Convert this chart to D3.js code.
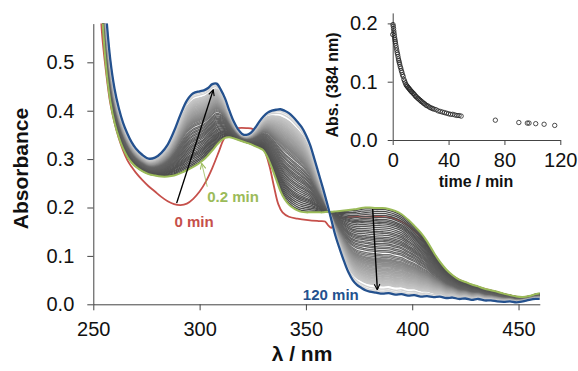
<!DOCTYPE html>
<html>
<head>
<meta charset="utf-8">
<script src="https://cdn.jsdelivr.net/npm/d3@7"></script>
<style>
  body { margin: 0; background: #fff; }
  svg { font-family: "Liberation Sans", Arial, sans-serif; }
</style>
</head>
<body>
<div id="chart"></div>
<script>
// wavelength grid (nm) shared by the 0.2 min and 120 min spectra
const wl = [250, 252, 254, 256, 258, 260, 262, 264, 266, 268, 270, 273, 276, 279, 282, 285, 288, 291, 294, 297,
  300, 302, 304, 306, 308, 310, 312, 314, 316, 318, 320, 322, 324, 326, 328, 330, 332, 334, 336, 338,
  340, 342, 344, 346, 348, 350, 352, 354, 356, 358, 360, 362, 364, 366, 368, 370, 372, 374, 376, 378,
  380, 383, 386, 389, 392, 395, 398, 401, 404, 407, 410, 413, 416, 419, 422, 425, 428, 431, 434, 437,
  440, 443, 446, 449, 452, 455, 458, 460];

// 120 min spectrum (blue)
const blue120 = [1.05, 0.88, 0.73, 0.60, 0.505, 0.445, 0.405, 0.375, 0.353, 0.335, 0.322, 0.309, 0.301, 0.303, 0.313, 0.330, 0.358, 0.392, 0.421, 0.436,
  0.440, 0.442, 0.447, 0.455, 0.456, 0.443, 0.425, 0.400, 0.378, 0.362, 0.352, 0.350, 0.354, 0.364, 0.377, 0.388, 0.396, 0.400, 0.402, 0.403,
  0.400, 0.395, 0.387, 0.377, 0.366, 0.350, 0.329, 0.300, 0.270, 0.240, 0.208, 0.174, 0.140, 0.113, 0.088, 0.066, 0.050, 0.040, 0.034, 0.029,
  0.026, 0.024, 0.022, 0.023, 0.020, 0.021, 0.018, 0.019, 0.016, 0.017, 0.015, 0.016, 0.013, 0.014, 0.011, 0.012, 0.009, 0.011, 0.008, 0.008,
  0.006, 0.005, 0.006, 0.004, 0.006, 0.009, 0.011, 0.011];

// 0.2 min spectrum (green)
const green02 = [1.00, 0.80, 0.61, 0.49, 0.42, 0.375, 0.345, 0.322, 0.305, 0.293, 0.284, 0.275, 0.269, 0.266, 0.264, 0.264, 0.266, 0.271, 0.277, 0.284,
  0.292, 0.299, 0.308, 0.318, 0.329, 0.338, 0.344, 0.345, 0.343, 0.340, 0.337, 0.334, 0.331, 0.327, 0.323, 0.318, 0.303, 0.282, 0.258, 0.234,
  0.217, 0.206, 0.199, 0.194, 0.191, 0.190, 0.190, 0.190, 0.190, 0.190, 0.191, 0.191, 0.192, 0.193, 0.194, 0.195, 0.196, 0.197, 0.199, 0.200,
  0.200, 0.199, 0.199, 0.197, 0.193, 0.186, 0.175, 0.162, 0.148, 0.130, 0.108, 0.088, 0.072, 0.060, 0.051, 0.046, 0.041, 0.037, 0.032, 0.029,
  0.026, 0.022, 0.019, 0.016, 0.015, 0.017, 0.021, 0.023];

// 0 min spectrum (red)
const redWl = [250, 252, 254, 256, 258, 260, 262, 264, 266, 268, 270, 273, 276, 279, 282, 285, 288, 291, 294, 297,
  300, 303, 306, 309, 311, 313, 315, 318, 322, 325, 327, 329, 331, 333, 335, 337, 339, 342, 346, 351,
  356, 359, 360.5, 362, 363.5, 366, 370, 376, 384, 390, 395, 400, 405, 410, 415, 420, 425, 430, 440, 450, 455, 460];
const red0 = [0.95, 0.75, 0.565, 0.48, 0.415, 0.375, 0.343, 0.318, 0.298, 0.284, 0.272, 0.257, 0.244, 0.233, 0.222, 0.213, 0.207, 0.205, 0.208, 0.218,
  0.233, 0.254, 0.282, 0.315, 0.338, 0.354, 0.361, 0.364, 0.364, 0.362, 0.352, 0.335, 0.313, 0.283, 0.243, 0.207, 0.190, 0.181, 0.177, 0.174,
  0.172, 0.171, 0.163, 0.158, 0.172, 0.178, 0.180, 0.181, 0.181, 0.179, 0.171, 0.156, 0.133, 0.100, 0.073, 0.056, 0.045, 0.037, 0.025, 0.015, 0.016, 0.020];

// kinetics at 384 nm (inset)
const kinTime = [0, 0.2, 0.4, 0.6, 0.8, 1.0, 1.2, 1.4, 1.6, 1.8, 2.0, 2.3, 2.6, 2.9, 3.2, 3.5, 3.8, 4.1, 4.4, 4.7,
  5.0, 5.4, 5.8, 6.2, 6.6, 7.0, 7.5, 8.0, 8.5, 9.0, 9.5, 10, 10.5, 11, 11.5, 12, 12.5, 13, 13.5, 14,
  14.6, 15.2, 15.8, 16.4, 17, 17.7, 18.4, 19.1, 19.8, 20.5, 21.3, 22.1, 22.9, 23.7, 24.5, 25.5, 26.5, 27.5, 28.5, 29.5,
  31, 32.5, 34, 35.5, 37, 38.5, 40, 41.5, 43, 44.5, 46, 47.5, 49, 73.5, 90.3, 96.4, 97.6, 102.4, 108.4, 116];
const kinAbs = [0.181, 0.198, 0.195, 0.191, 0.187, 0.183, 0.179, 0.175, 0.172, 0.169, 0.166, 0.162, 0.158, 0.154, 0.150, 0.147, 0.143, 0.139, 0.136, 0.133,
  0.130, 0.126, 0.123, 0.119, 0.116, 0.112, 0.109, 0.104, 0.101, 0.098, 0.095, 0.093, 0.092, 0.090, 0.089, 0.087, 0.086, 0.084, 0.083, 0.082,
  0.080, 0.079, 0.077, 0.075, 0.074, 0.072, 0.071, 0.069, 0.068, 0.066, 0.065, 0.063, 0.062, 0.060, 0.059, 0.058, 0.056, 0.055, 0.054, 0.053,
  0.052, 0.050, 0.049, 0.048, 0.047, 0.046, 0.045, 0.044, 0.044, 0.043, 0.042, 0.042, 0.041, 0.034, 0.030, 0.029, 0.029, 0.028, 0.027, 0.025];

const xTicks = [250, 300, 350, 400, 450];
const yTicks = [0, 0.1, 0.2, 0.3, 0.4, 0.5];
const insetXTicks = [0, 40, 80, 120];
const insetYTicks = [0, 0.1, 0.2];

const W = 578, H = 371;
const RED = "#c6504b", GREEN = "#9bbb59", BLUE = "#24518e";

const svg = d3.select("#chart").append("svg")
  .attr("width", W)
  .attr("height", H);

// main scales
const x = d3.scaleLinear().domain([250, 460]).range([93.3, 539.8]);
const y = d3.scaleLinear().domain([0, 0.58]).range([304.3, 23.6]);

svg.append("defs").append("clipPath")
  .attr("id", "plotclip")
  .append("rect")
  .attr("x", x(250)).attr("y", y(0.58))
  .attr("width", x(460) - x(250)).attr("height", y(0) - y(0.58) + 4);

const defs = svg.select("defs");
function arrowMarker(id, color) {
  defs.append("marker")
    .attr("id", id)
    .attr("viewBox", "0 0 10 10")
    .attr("refX", 9).attr("refY", 5)
    .attr("markerWidth", 7).attr("markerHeight", 7)
    .attr("markerUnits", "userSpaceOnUse")
    .attr("orient", "auto")
    .append("path")
    .attr("d", "M1,1 L9,5 L1,9")
    .attr("fill", "none")
    .attr("stroke", color)
    .attr("stroke-width", 1.6);
}
arrowMarker("arrBlack", "#000");
arrowMarker("arrGreen", GREEN);

const line = d3.line()
  .x(d => x(d[0]))
  .y(d => y(d[1]))
  .curve(d3.curveCatmullRom);

const plot = svg.append("g").attr("clip-path", "url(#plotclip)");

// 0 min spectrum first, underneath the others
plot.append("path")
  .attr("d", line(redWl.map((w, i) => [w, red0[i]])))
  .attr("fill", "none").attr("stroke", RED).attr("stroke-width", 1.8);

// intermediate spectra: each kinetic point weights the 0.2 min and 120 min spectra
const aStart = kinAbs[1], aEnd = kinAbs[kinAbs.length - 1];
const grey = d3.scaleLinear()
  .domain([0, 0.1, 0.3, 0.5, 1])
  .range(["#e2e2e2", "#c4c4c4", "#999999", "#676767", "#4a4a4a"]);

for (let k = 2; k < kinAbs.length - 1; k++) {
  const frac = (kinAbs[k] - aEnd) / (aStart - aEnd);
  const spec = wl.map((w, i) => [w, blue120[i] + frac * (green02[i] - blue120[i])]);
  plot.append("path")
    .attr("d", line(spec))
    .attr("fill", "none")
    .attr("stroke", grey(frac))
    .attr("stroke-width", 1.3);
}

plot.append("path")
  .attr("d", line(wl.map((w, i) => [w, green02[i]])))
  .attr("fill", "none").attr("stroke", GREEN).attr("stroke-width", 2);

plot.append("path")
  .attr("d", line(wl.map((w, i) => [w, blue120[i]])))
  .attr("fill", "none").attr("stroke", BLUE).attr("stroke-width", 2.3);

// axes
const xAxis = svg.append("g")
  .attr("transform", "translate(0," + y(0) + ")")
  .call(d3.axisBottom(x).tickValues(xTicks).tickSize(6).tickSizeOuter(0).tickPadding(12));
const yAxis = svg.append("g")
  .attr("transform", "translate(" + x(250) + ",0)")
  .call(d3.axisLeft(y).tickValues(yTicks).tickFormat(d3.format(".1f")).tickSize(6).tickSizeOuter(0).tickPadding(13));

[xAxis, yAxis].forEach(a => {
  a.selectAll("path, line").attr("stroke", "#444");
  a.selectAll("text").attr("fill", "#111").style("font-size", "20px").style("font-family", "'Liberation Sans', Arial, sans-serif");
});

svg.append("text")
  .attr("transform", "translate(28,168.5) rotate(-90)")
  .attr("text-anchor", "middle")
  .style("font-size", "21px").style("font-weight", "bold")
  .attr("fill", "#111")
  .text("Absorbance");

svg.append("text")
  .attr("x", 302).attr("y", 361)
  .attr("text-anchor", "middle")
  .style("font-size", "21px").style("font-weight", "bold")
  .attr("fill", "#111")
  .text("λ / nm");

// arrows and labels
svg.append("line")
  .attr("x1", x(289.2)).attr("y1", y(0.209))
  .attr("x2", x(306.4)).attr("y2", y(0.443))
  .attr("stroke", "#000").attr("stroke-width", 1.4)
  .attr("marker-end", "url(#arrBlack)");
svg.append("line")
  .attr("x1", x(381.4)).attr("y1", y(0.197))
  .attr("x2", x(383.6)).attr("y2", y(0.030))
  .attr("stroke", "#000").attr("stroke-width", 1.4)
  .attr("marker-end", "url(#arrBlack)");
svg.append("line")
  .attr("x1", x(303.6)).attr("y1", y(0.243))
  .attr("x2", x(301.0)).attr("y2", y(0.291))
  .attr("stroke", GREEN).attr("stroke-width", 0.8)
  .attr("marker-end", "url(#arrGreen)");

const labels = [
  { t: "0 min", w: 297.4, a: 0.160, c: RED },
  { t: "0.2 min", w: 315.7, a: 0.211, c: GREEN },
  { t: "120 min", w: 361.7, a: 0.008, c: BLUE }
];
svg.selectAll("text.lab").data(labels).enter().append("text")
  .attr("class", "lab")
  .attr("x", d => x(d.w)).attr("y", d => y(d.a))
  .attr("text-anchor", "middle")
  .style("font-size", "15px").style("font-weight", "bold")
  .attr("fill", d => d.c)
  .text(d => d.t);

// inset
const xi = d3.scaleLinear().domain([0, 120]).range([392.7, 560.3]);
const yi = d3.scaleLinear().domain([0, 0.218]).range([140, 12.9]);

const ixAxis = svg.append("g")
  .attr("transform", "translate(0," + yi(0) + ")")
  .call(d3.axisBottom(xi).tickValues(insetXTicks).tickSize(5).tickSizeOuter(0).tickPadding(8));
const iyAxis = svg.append("g")
  .attr("transform", "translate(" + xi(0) + ",0)")
  .call(d3.axisLeft(yi).tickValues(insetYTicks).tickFormat(d3.format(".1f")).tickSize(5).tickSizeOuter(0).tickPadding(10));

[ixAxis, iyAxis].forEach(a => {
  a.selectAll("path, line").attr("stroke", "#444");
  a.selectAll("text").attr("fill", "#111").style("font-size", "20px").style("font-family", "'Liberation Sans', Arial, sans-serif");
});

svg.append("g").selectAll("circle")
  .data(kinTime.map((t, i) => [t, kinAbs[i]]))
  .enter().append("circle")
  .attr("cx", d => xi(d[0]))
  .attr("cy", d => yi(d[1]))
  .attr("r", 2.2)
  .attr("fill", "none")
  .attr("stroke", "#222")
  .attr("stroke-width", 0.8);

svg.append("text")
  .attr("x", 476).attr("y", 187)
  .attr("text-anchor", "middle")
  .style("font-size", "16px").style("font-weight", "bold")
  .attr("fill", "#111")
  .text("time / min");

svg.append("text")
  .attr("transform", "translate(338,85) rotate(-90)")
  .attr("text-anchor", "middle")
  .style("font-size", "16px").style("font-weight", "bold")
  .attr("fill", "#111")
  .text("Abs. (384 nm)");
</script>
</body>
</html>
